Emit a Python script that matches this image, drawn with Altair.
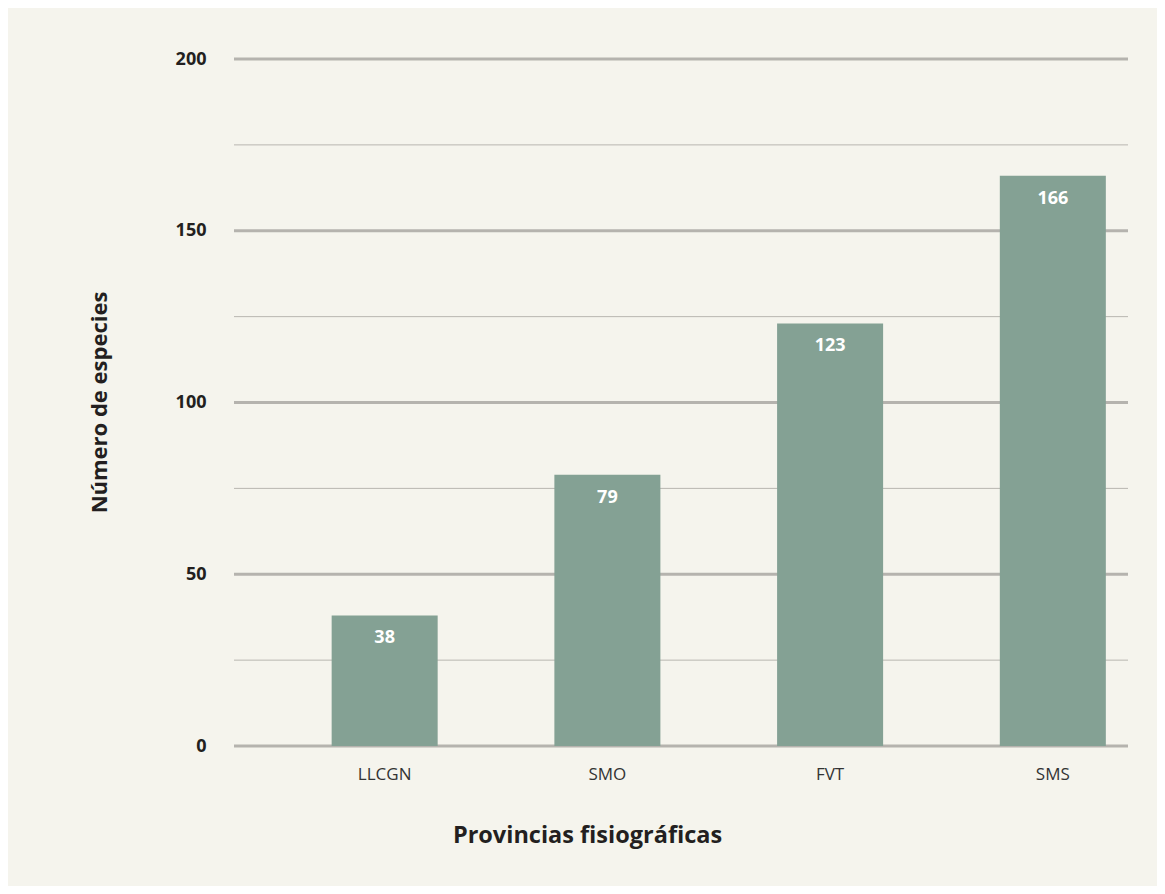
import altair as alt
import pandas as pd

categories = ["LLCGN", "SMO", "FVT", "SMS"]
values = [38, 79, 123, 166]
major_ticks = [0, 50, 100, 150, 200]
minor_ticks = [25, 75, 125, 175]

bars_df = pd.DataFrame({"prov": categories, "n": values})
major_df = pd.DataFrame({"n": major_ticks})
minor_df = pd.DataFrame({"n": minor_ticks})

FONT = "Open Sans"
W, H = 894, 687

yscale = alt.Scale(domain=[0, 200], nice=False, zero=True)
yaxis = alt.Axis(
    values=major_ticks, grid=False, domain=False, ticks=False,
    labelFont=FONT, labelFontSize=18, labelFontWeight="bold", labelColor="#231f20",
    labelPadding=28,
    title="Número de especies", titleFont=FONT, titleFontSize=22, titleFontWeight="bold",
    titleColor="#231f20", titleAngle=270, titleX=-135, titleY=343,
    titleAlign="center", titleBaseline="middle",
)
xscale = alt.Scale(paddingInner=0.524, paddingOuter=0.269, align=0.815)
xaxis = alt.Axis(
    grid=False, domain=False, ticks=False, labelAngle=0,
    labelFont=FONT, labelFontSize=17, labelColor="#333333", labelPadding=20,
    title="Provincias fisiográficas", titleFont=FONT, titleFontSize=23.5,
    titleFontWeight="bold", titleColor="#231f20", titleX=353, titleY=96,
    titleAlign="center", titleBaseline="alphabetic",
)

minor = alt.Chart(minor_df).mark_rule(color="#b8b6b0", strokeWidth=1).encode(
    y=alt.Y("n:Q", scale=yscale, axis=yaxis),
    x=alt.value(0), x2=alt.value(W),
)
major = alt.Chart(major_df).mark_rule(color="#b5b3ae", strokeWidth=3).encode(
    y=alt.Y("n:Q", scale=yscale, axis=yaxis),
    x=alt.value(0), x2=alt.value(W),
)
bars = alt.Chart(bars_df).mark_bar(color="#84a194").encode(
    x=alt.X("prov:N", sort=categories, scale=xscale, axis=xaxis),
    y=alt.Y("n:Q", scale=yscale, axis=yaxis),
)
labels = alt.Chart(bars_df).mark_text(
    color="white", font=FONT, fontSize=18, fontWeight="bold",
    baseline="alphabetic", dy=28,
).encode(
    x=alt.X("prov:N", sort=categories, scale=xscale, axis=xaxis),
    y=alt.Y("n:Q", scale=yscale, axis=yaxis),
    text=alt.Text("n:Q"),
)

chart = (
    alt.layer(minor, major, bars, labels)
    .properties(
        width=W, height=H,
        autosize=alt.AutoSizeParams(type="none"),
        padding={"left": 226, "top": 51, "right": 29, "bottom": 140},
        background="#f5f4ed",
    )
    .configure_view(stroke=None)
)

chart.save("out.html", embed_options={"renderer": "svg", "actions": False})
